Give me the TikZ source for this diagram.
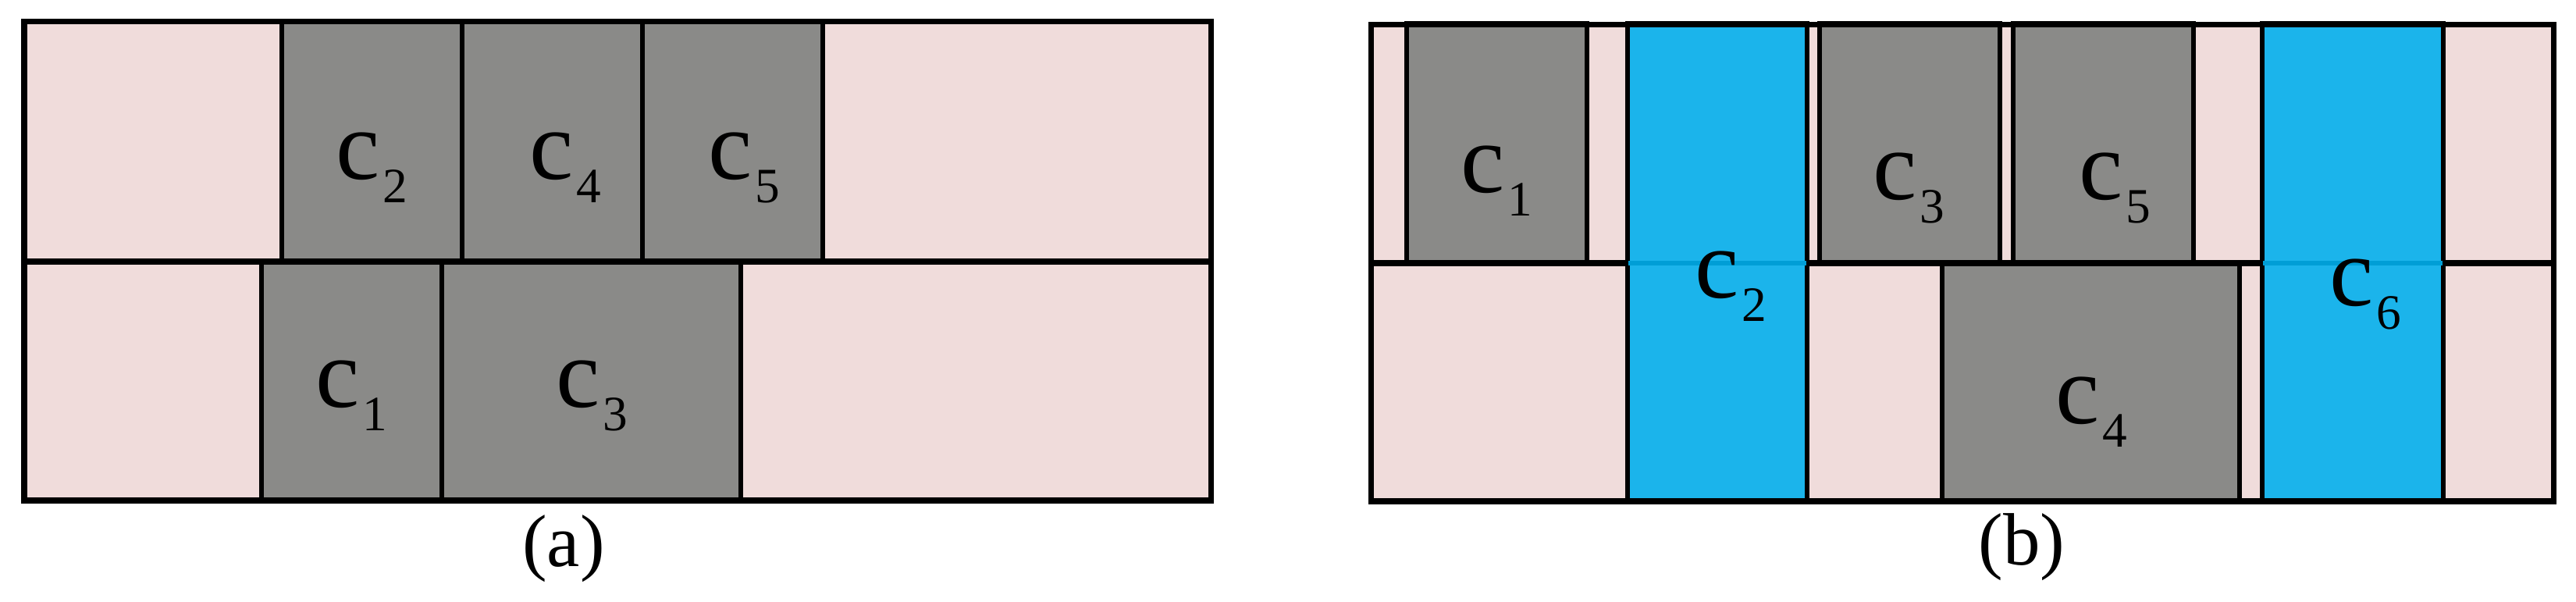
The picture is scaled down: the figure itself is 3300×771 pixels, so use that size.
\documentclass[tikz,border=0pt]{standalone}
\usepackage{fontspec}
\setmainfont{Liberation Serif}

\definecolor{rosa}{RGB}{240,220,219}
\definecolor{gris}{RGB}{138,138,136}
\definecolor{celeste}{RGB}{27,180,235}
\definecolor{celesteosc}{RGB}{0,158,214}

\newcommand{\cetiq}[1]{c\kern1pt\raisebox{-8.5pt}{\fontsize{18pt}{18pt}\selectfont #1}}

\begin{document}
\begin{tikzpicture}[x=0.01cm,y=-0.01cm,
    borde/.style={line width=2pt},
    bloque/.style={fill=gris,draw=black,line width=1.7pt},
    azul/.style={fill=celeste,draw=black,line width=1.7pt},
    etiq/.style={anchor=base,inner sep=0pt,font=\fontsize{36pt}{36pt}\selectfont},
    pie/.style={anchor=base,inner sep=0pt,font=\fontsize{27pt}{27pt}\selectfont}]
    \useasboundingbox (0,0) rectangle (3300,771);

    % Panel (a)
    \fill[rosa] (31,28) rectangle (1551,641);
    \begin{scope}
        \draw[bloque] (361,28) rectangle (592,335);
        \draw[bloque] (592,28) rectangle (823,335);
        \draw[bloque] (823,28) rectangle (1054,335);
        \draw[bloque] (335,335) rectangle (566,641);
        \draw[bloque] (566,335) rectangle (949,641);
    \end{scope}
    \draw[borde] (31,335) -- (1551,335);
    \draw[borde] (31,28) rectangle (1551,641);

    \node[etiq] (a2) at (476,230) {\cetiq{2}};
    \node[etiq] (a4) at (724,230) {\cetiq{4}};
    \node[etiq] (a5) at (953,230) {\cetiq{5}};
    \node[etiq] (a1) at (450,522) {\cetiq{1}};
    \node[etiq] (a3) at (758,522) {\cetiq{3}};
    \node[pie] (pa) at (722,726) {(a)};

    % Panel (b)
    \fill[rosa] (1756,32) rectangle (3271,642);
    \begin{scope}
        \draw[bloque] (1802,30) rectangle (2033,337);
        \draw[bloque] (2331,30) rectangle (2562,337);
        \draw[bloque] (2579,30) rectangle (2810,337);
        \draw[bloque] (2488,337) rectangle (2869,642);
    \end{scope}
    \draw[borde] (1756,337) -- (3271,337);
    \begin{scope}
        \draw[azul] (2085,30) rectangle (2315,642);
        \draw[azul] (2898,30) rectangle (3130,642);
        \fill[celesteosc] (2086,334) rectangle (2314,340);
        \fill[celesteosc] (2899,334) rectangle (3129,340);
    \end{scope}
    \draw[borde] (1756,32) rectangle (3271,642);

    \node[etiq] (b1) at (1917,247) {\cetiq{1}};
    \node[etiq] (b3) at (2445,256) {\cetiq{3}};
    \node[etiq] (b5) at (2709,256) {\cetiq{5}};
    \node[etiq] (b2) at (2217,382) {\cetiq{2}};
    \node[etiq] (b6) at (3030,392) {\cetiq{6}};
    \node[etiq] (b4) at (2679,543) {\cetiq{4}};
    \node[pie] (pb) at (2590,724) {(b)};
\end{tikzpicture}
\end{document}
